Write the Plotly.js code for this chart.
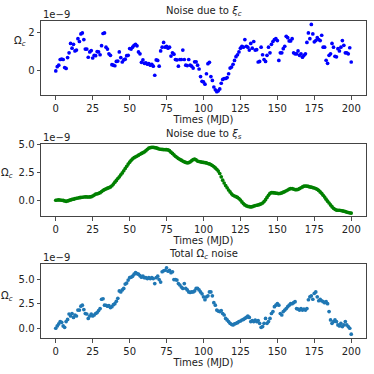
<!DOCTYPE html>
<html>
<head>
<meta charset="utf-8">
<script src="https://cdn.plot.ly/plotly-3.0.1.min.js"></script>
<style>
  html, body { margin: 0; padding: 0; background: #fff; }
  #chart { width: 374px; height: 374px; }
</style>
</head>
<body>
<div id="chart"></div>
<script>
// Values are in units of 1e-9 (the axes show the "1e-9" offset label)
const times = [
  0, 1, 2, 3, 4, 5, 6, 7, 8, 9, 10, 11, 12, 13, 14, 15, 16, 17, 18, 19,
  20, 21, 22, 23, 24, 25, 26, 27, 28, 29, 30, 31, 32, 33, 34, 35, 36, 37, 38, 39,
  40, 41, 42, 43, 44, 45, 46, 47, 48, 49, 50, 51, 52, 53, 54, 55, 56, 57, 58, 59,
  60, 61, 62, 63, 64, 65, 66, 67, 68, 69, 70, 71, 72, 73, 74, 75, 76, 77, 78, 79,
  80, 81, 82, 83, 84, 85, 86, 87, 88, 89, 90, 91, 92, 93, 94, 95, 96, 97, 98, 99,
  100, 101, 102, 103, 104, 105, 106, 107, 108, 109, 110, 111, 112, 113, 114, 115, 116, 117, 118, 119,
  120, 121, 122, 123, 124, 125, 126, 127, 128, 129, 130, 131, 132, 133, 134, 135, 136, 137, 138, 139,
  140, 141, 142, 143, 144, 145, 146, 147, 148, 149, 150, 151, 152, 153, 154, 155, 156, 157, 158, 159,
  160, 161, 162, 163, 164, 165, 166, 167, 168, 169, 170, 171, 172, 173, 174, 175, 176, 177, 178, 179,
  180, 181, 182, 183, 184, 185, 186, 187, 188, 189, 190, 191, 192, 193, 194, 195, 196, 197, 198, 199,
  200
];

// noise due to xi_c
const noiseXiC = [
  0, 0.22, 0.3, 0.6, 0.62, 0.6, 0.18, 0.13, 0.7, 0.95,
  1.45, 1.2, 1.4, 1.05, 1.1, 1.7, 1.55, 1.95, 2.0, 1.65,
  1.15, 1.15, 0.72, 1.0, 1.07, 0.68, 0.82, 0.8, 1.02, 1.0,
  0.85, 1.33, 1.97, 2.0, 1.25, 1.15, 0.9, 0.82, 0.33, 0.3,
  0.27, 0.5, 0.52, 1.0, 0.7, 0.47, 0.58, 0.62, 0.8, 0.82,
  1.18, 1.15, 1.25, 1.35, 1.4, 1.32, 1.0, 0.9, 0.45, 0.58,
  0.4, 0.42, 0.35, 0.38, 0.3, 0.35, 0.25, -0.23, 0.58, 0.55,
  0.25, 1.05, 1.25, 1.5, 1.25, 1.3, 1.2, 1.25, 0.78, 0.95,
  0.88, 0.6, 0.58, 0.25, 0.6, 0.6, 1.1, 0.6, 0.3, 0.28,
  0.6, 0.3, 0.25, 0.15, 0.48, 0.48, 0.3, 0.1, -0.3, -0.55,
  -0.58, -0.7, -0.15, 0.38, 0.45, -0.3, -0.5, -0.85, -1.0, -1.1,
  -1.05, -0.95, -0.65, -0.45, -0.4, -0.4, -0.35, -0.15, 0.15, 0.2,
  0.35, 0.55, 0.75, 0.85, 1.0, 1.2, 1.3, 1.25, 1.65, 1.3,
  1.25, 1.1, 1.45, 1.2, 1.55, 1.1, 1.12, 0.47, 0.5, 1.25,
  0.85, 0.6, 0.5, 0.82, 1.25, 0.95, 1.4, 1.55, 1.65, 1.7,
  1.6, 0.55, 0.95, 0.95, 1.17, 1.3, 1.82, 1.75, 1.58, 1.58,
  1.7, 0.95, 0.9, 0.9, 1.05, 0.82, 0.9, 0.72, 0.82, 0.9,
  1.5, 2.0, 1.7, 2.45, 1.95, 1.53, 1.6, 1.75, 1.65, 1.6,
  1.88, 1.25, 1.25, 0.56, 0.4, 0.82, 0.9, 1.45, 1.25, 0.77,
  0.74, 1.17, 1.05, 1.25, 1.6, 1.35, 0.95, 0.95, 0.9, 1.22,
  0.47
];

// noise due to xi_s
const noiseXiS = [
  0.00, 0.02, 0.03, 0.02, 0.00, -0.02, -0.06, -0.10, -0.06, -0.02,
  0.03, 0.07, 0.10, 0.14, 0.18, 0.20, 0.23, 0.25, 0.27, 0.29,
  0.31, 0.30, 0.29, 0.30, 0.32, 0.38, 0.46, 0.55, 0.58, 0.62,
  0.68, 0.78, 0.88, 0.96, 1.02, 1.08, 1.13, 1.20, 1.30, 1.45,
  1.62, 1.78, 1.95, 2.10, 2.28, 2.45, 2.65, 2.85, 3.05, 3.25,
  3.42, 3.58, 3.72, 3.82, 3.90, 3.97, 4.05, 4.13, 4.20, 4.27,
  4.35, 4.45, 4.58, 4.68, 4.73, 4.75, 4.75, 4.73, 4.70, 4.65,
  4.60, 4.58, 4.56, 4.55, 4.55, 4.54, 4.52, 4.45, 4.32, 4.20,
  4.08, 3.95, 3.85, 3.75, 3.67, 3.60, 3.52, 3.45, 3.40, 3.36,
  3.38, 3.45, 3.55, 3.65, 3.70, 3.62, 3.52, 3.48, 3.45, 3.42,
  3.40, 3.38, 3.35, 3.30, 3.26, 3.20, 3.12, 3.02, 2.90, 2.78,
  2.62, 2.40, 2.10, 1.80, 1.55, 1.32, 1.12, 0.92, 0.75, 0.58,
  0.45, 0.38, 0.32, 0.25, 0.15, 0.02, -0.15, -0.30, -0.42, -0.50,
  -0.55, -0.58, -0.60, -0.58, -0.52, -0.48, -0.45, -0.42, -0.38, -0.32,
  -0.25, -0.12, 0.05, 0.25, 0.45, 0.62, 0.68, 0.68, 0.66, 0.64,
  0.62, 0.60, 0.62, 0.66, 0.72, 0.78, 0.85, 0.92, 1.00, 1.05,
  1.05, 1.00, 0.96, 0.95, 0.98, 1.05, 1.12, 1.20, 1.26, 1.28,
  1.27, 1.24, 1.20, 1.17, 1.14, 1.10, 1.05, 0.98, 0.88, 0.75,
  0.62, 0.45, 0.28, 0.10, -0.08, -0.25, -0.42, -0.58, -0.72, -0.82,
  -0.88, -0.90, -0.90, -0.92, -0.95, -0.98, -1.02, -1.06, -1.10, -1.13,
  -1.15
];

// total Omega_c noise
const noiseTotal = [
  0, 0.24, 0.44, 0.68, 0.6, 0.24, 0.1, 0.68, 0.9, 1.45,
  1.25, 1.5, 1.1, 1.35, 1.25, 1.85, 1.85, 2.25, 2.35, 1.9,
  1.5, 1.45, 1.0, 1.25, 1.45, 1.25, 1.35, 1.5, 1.6, 1.8,
  2.0, 2.95, 3.0, 2.35, 2.33, 2.25, 2.3, 2.1, 2.2, 2.4,
  2.5, 2.75, 3.05, 3.8, 3.7, 3.9, 4.05, 4.5, 4.6, 4.9,
  5.15, 5.2, 5.3, 5.5, 5.65, 5.55, 5.5, 5.35, 5.2, 5.3,
  5.15, 5.15, 5.05, 5.15, 5.05, 5.15, 5.05, 4.55, 5.15, 5.3,
  4.95, 4.7, 5.75, 5.85, 5.9, 6.15, 5.8, 5.9, 5.65, 5.75,
  4.95, 4.95, 4.9, 4.55, 4.4, 4.2, 4.05, 4.55, 4.05, 3.9,
  3.7, 3.65, 3.7, 3.7, 3.8, 4.05, 4.05, 3.9, 3.7, 3.5,
  3.2, 2.9, 3.2, 3.3, 3.7, 3.7, 3.3, 2.6, 2.35, 1.85,
  1.75, 1.7, 1.8, 1.5, 1.35, 1.0, 0.85, 0.68, 0.5, 0.4,
  0.34, 0.44, 0.5, 0.57, 0.68, 0.74, 0.84, 0.9, 1.0, 1.1,
  1.25, 1.1, 0.68, 0.78, 0.68, 0.84, 0.68, 0.78, 0.5, 0.1,
  0.17, 0.5, 1.0, 0.5, 0.68, 1.0, 1.5, 1.7, 2.2, 2.35,
  2.5, 2.35, 1.5, 1.35, 1.7, 1.85, 2.0, 2.2, 2.35, 2.5,
  2.5, 2.6, 2.7, 2.0, 1.95, 1.85, 2.0, 1.85, 1.95, 1.85,
  2.0, 2.9, 3.2, 3.3, 2.95, 3.55, 3.7, 3.2, 2.8, 2.95,
  2.8, 2.7, 2.6, 2.7, 2.5, 1.7, 0.85, 0.5, 0.68, 0.85,
  0.68, 0.34, 0.24, 0.5, 0.17, 0.34, 0.68, 0.34, 0.17, 0.0,
  -0.6
];

const xTicks = [0, 25, 50, 75, 100, 125, 150, 175, 200];
const panelTitles = [
  'Noise due to <i>ξ<sub>c</sub></i>',
  'Noise due to <i>ξ<sub>s</sub></i>',
  'Total Ω<sub><i>c</i></sub> noise'
];

const FONT = 'DejaVu Sans, sans-serif';
const TXT = '#222';
const FS = 10;

function pointTrace(y, color, axisIdx) {
  const s = axisIdx === 1 ? '' : String(axisIdx);
  return {
    x: times,
    y: y,
    type: 'scatter',
    mode: 'markers',
    xaxis: 'x' + s,
    yaxis: 'y' + s,
    marker: { color: color, size: 3.7, line: { width: 0 } },
    hoverinfo: 'skip',
    showlegend: false
  };
}

const traces = [
  pointTrace(noiseXiC, '#0000ff', 1),
  pointTrace(noiseXiS, '#008000', 2),
  pointTrace(noiseTotal, '#1f77b4', 3)
];

function xAxis(anchor) {
  return {
    anchor: anchor,
    range: [-10, 210],
    tickvals: xTicks,
    ticks: 'outside',
    ticklen: 3.5,
    tickwidth: 0.8,
    tickcolor: '#222',
    showline: true,
    mirror: true,
    linecolor: '#444',
    linewidth: 1,
    showgrid: false,
    zeroline: false,
    tickfont: { family: FONT, size: FS, color: TXT },
    title: { text: 'Times (MJD)', standoff: 1, font: { family: FONT, size: FS, color: TXT } }
  };
}

function yAxis(anchor, domain, range, tickvals, fmt) {
  return {
    anchor: anchor,
    domain: domain,
    range: range,
    tickvals: tickvals,
    tickformat: fmt,
    ticks: 'outside',
    ticklen: 3.5,
    tickwidth: 0.8,
    tickcolor: '#222',
    showline: true,
    mirror: true,
    linecolor: '#444',
    linewidth: 1,
    showgrid: false,
    zeroline: false,
    tickfont: { family: FONT, size: FS, color: TXT }
  };
}

const annotations = [];
const omegaPos = [
  { shift: -13, y: 0.72 },
  { shift: -26, y: 0.59 },
  { shift: -26, y: 0.56 }
];
['', '2', '3'].forEach((s, i) => {
  // panel title
  annotations.push({
    xref: 'x' + s + ' domain', yref: 'y' + s + ' domain',
    x: 0.5, y: 1, xanchor: 'center', yanchor: 'bottom', yshift: 1,
    text: panelTitles[i], showarrow: false,
    font: { family: FONT, size: FS, color: TXT }
  });
  // offset label
  annotations.push({
    xref: 'x' + s + ' domain', yref: 'y' + s + ' domain',
    x: 0, y: 1, xanchor: 'left', yanchor: 'bottom', yshift: -1,
    text: '1e−9', showarrow: false,
    font: { family: FONT, size: FS, color: TXT }
  });
  // horizontal y label
  annotations.push({
    xref: 'x' + s + ' domain', yref: 'y' + s + ' domain',
    x: 0, y: omegaPos[i].y, xanchor: 'right', yanchor: 'middle', xshift: omegaPos[i].shift,
    text: 'Ω<sub><i>c</i></sub>', showarrow: false,
    font: { family: FONT, size: FS, color: TXT }
  });
});

const layout = {
  width: 374,
  height: 374,
  paper_bgcolor: '#ffffff',
  plot_bgcolor: '#ffffff',
  font: { family: FONT, size: FS, color: TXT },
  margin: { l: 41, r: 8, t: 21, b: 36 },
  xaxis: xAxis('y'),
  xaxis2: xAxis('y2'),
  xaxis3: xAxis('y3'),
  yaxis: yAxis('x', [0.766, 1.0], [-1.28, 2.63], [0, 2], 'd'),
  yaxis2: yAxis('x2', [0.384, 0.612], [-1.44, 5.05], [0, 2.5, 5], '.1f'),
  yaxis3: yAxis('x3', [0.0, 0.232], [-0.99, 6.49], [0, 2.5, 5], '.1f'),
  annotations: annotations,
  showlegend: false
};

Plotly.newPlot('chart', traces, layout, { displayModeBar: false, staticPlot: true });
</script>
</body>
</html>
